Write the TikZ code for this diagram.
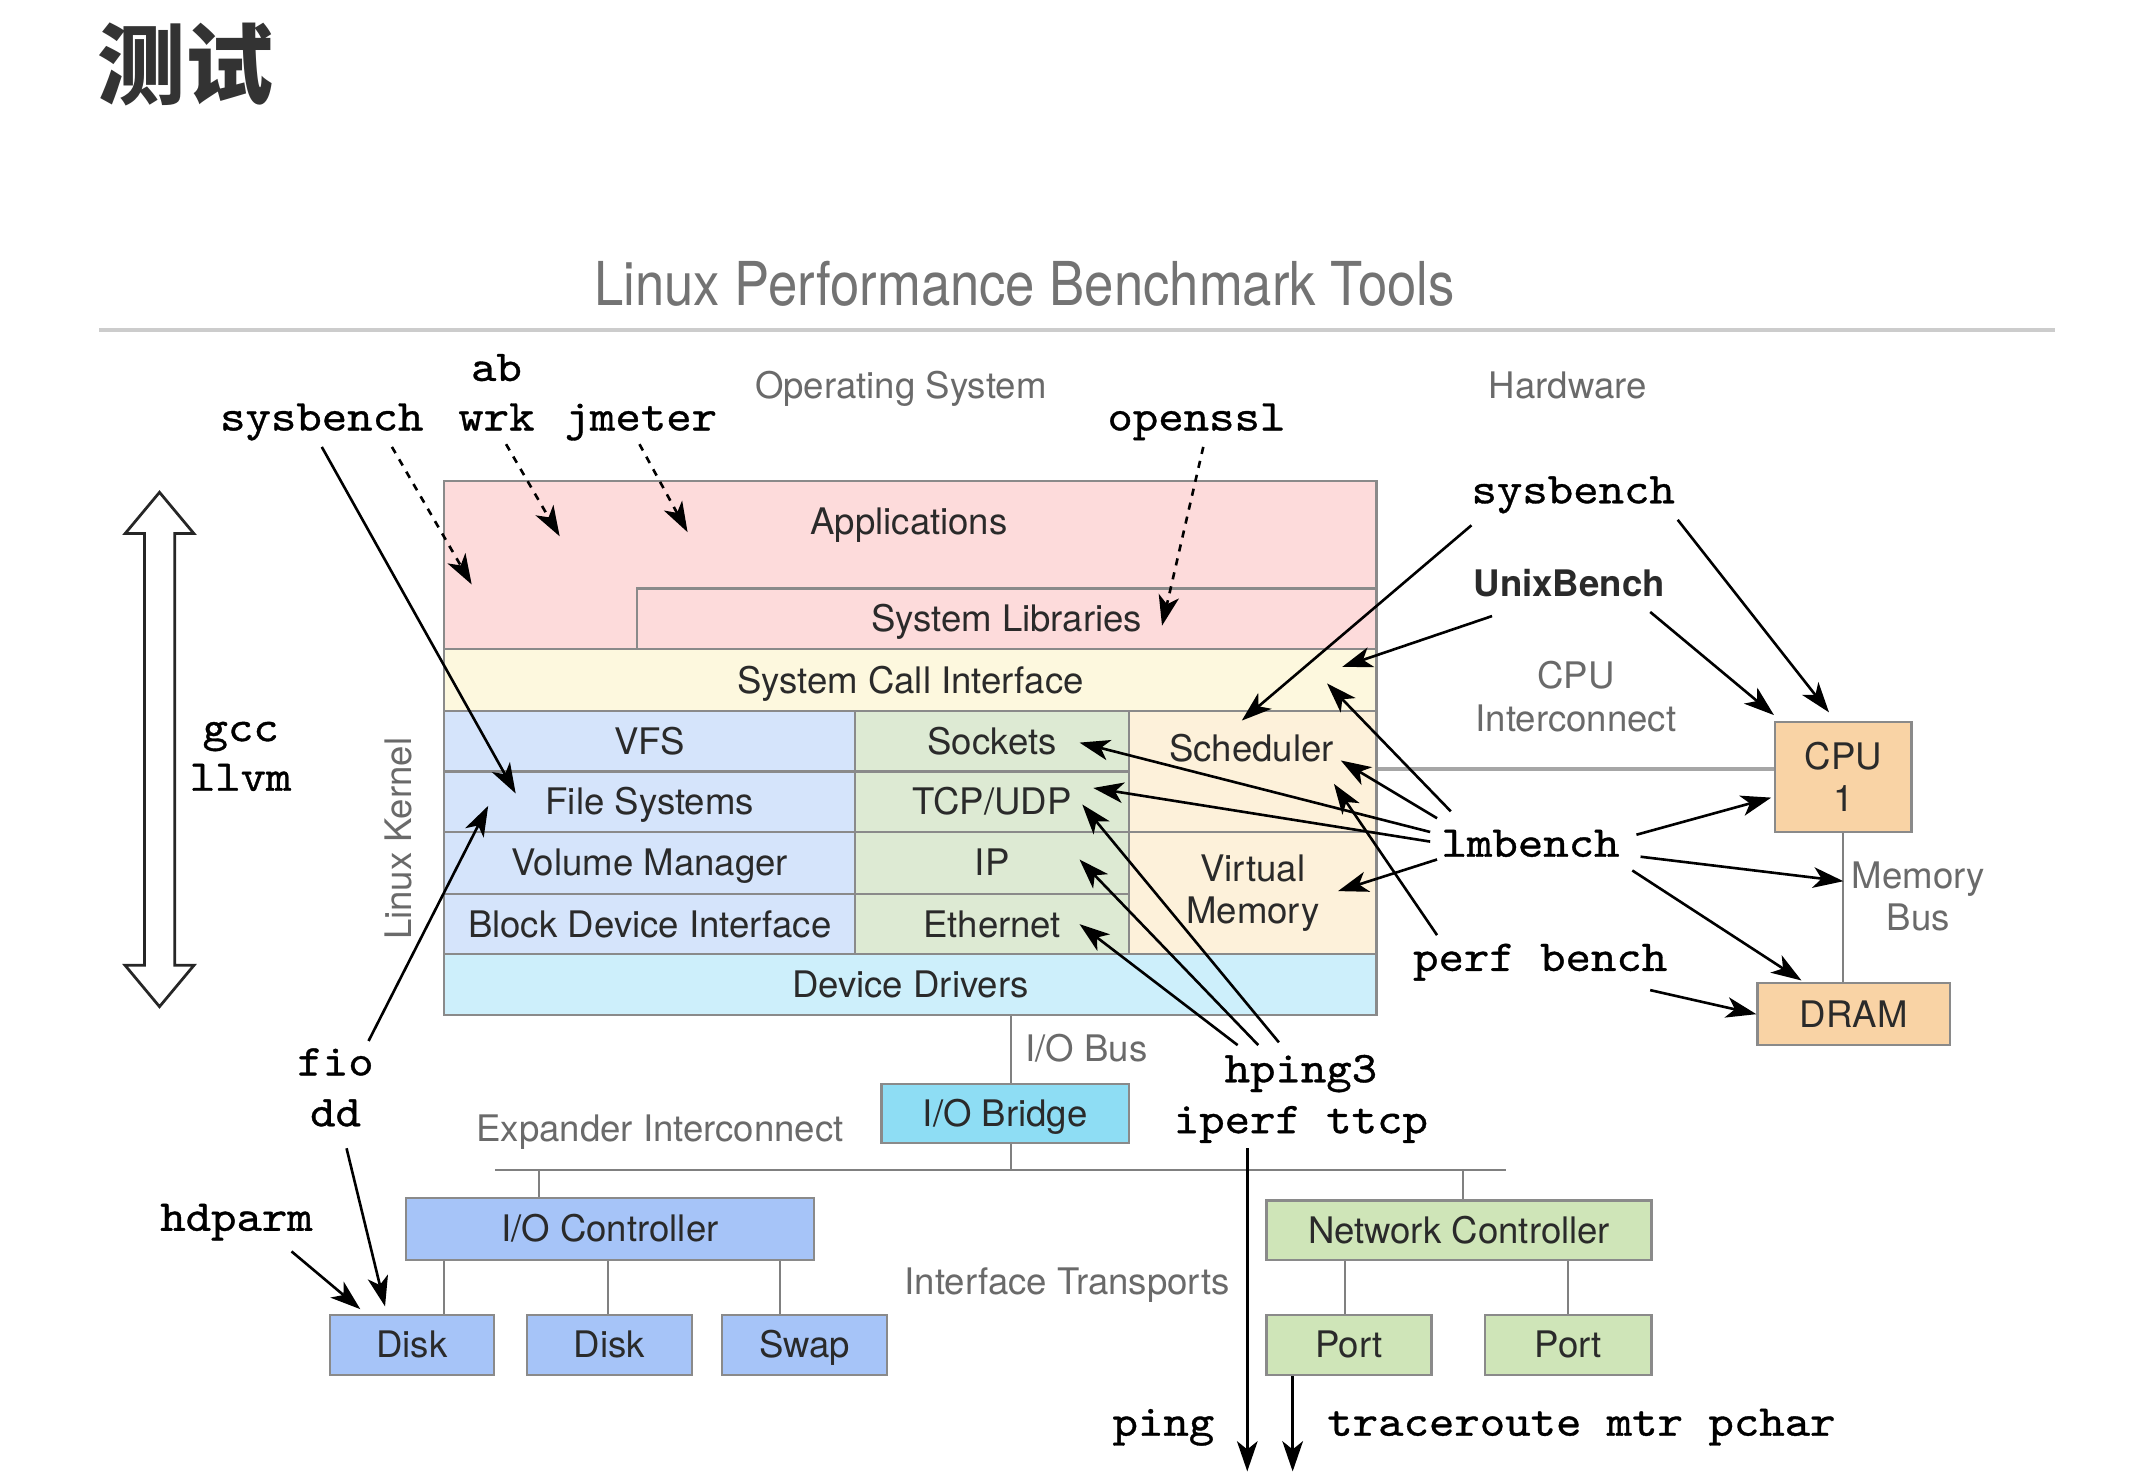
\documentclass[tikz,border=0pt]{standalone}
\usepackage{fontspec}
\setmainfont{TeX Gyre Heros}
\newfontfamily\codefont{lmmono10-regular.otf}[FakeBold=0.8,FakeStretch=1.1]
\newfontfamily\cjkfont{Noto Sans CJK SC}
\newfontfamily\ttlfont{TeX Gyre Heros}[FakeStretch=0.87]
\usetikzlibrary{arrows.meta}
\definecolor{cPink}{HTML}{FDDBDB}
\definecolor{cCream}{HTML}{FDF8DE}
\definecolor{cBlue}{HTML}{D5E4FB}
\definecolor{cGreen}{HTML}{DDEAD3}
\definecolor{cOrangeL}{HTML}{FDF1DA}
\definecolor{cCyanL}{HTML}{CDEFFB}
\definecolor{cCyan}{HTML}{8EDDF4}
\definecolor{cBlueD}{HTML}{A6C4F8}
\definecolor{cGreenD}{HTML}{CFE5B8}
\definecolor{cOrange}{HTML}{F9D3A5}
\definecolor{bordergray}{HTML}{8A8A8A}
\definecolor{linegray}{HTML}{808080}
\definecolor{labelgray}{HTML}{6A6A6A}
\definecolor{textblack}{HTML}{2A2A2A}
\newcommand\sbfont{\fontsize{13.3}{15.5}\selectfont}
\newcommand\cdfont{\codefont\fontsize{16}{18}\selectfont}
\begin{document}
\begin{tikzpicture}[x=0.5pt,y=-0.5pt,
  box/.style={draw=bordergray,line width=0.8pt,inner sep=0pt,font=\sbfont,text=textblack,text height=9.5pt,text depth=0pt},
  wh/.style 2 args={minimum width=#1*0.5pt,minimum height=#2*0.5pt},
  twolines/.style={align=center,text height={},text depth={}},
  txt/.style={font=\sbfont,text=textblack,inner sep=0pt,anchor=base},
  glabel/.style={font=\sbfont,text=labelgray,inner sep=0pt,anchor=base,align=center},
  code/.style={font=\cdfont,text=black,inner sep=0pt,anchor=base},
  arr/.style={-{Stealth[length=11pt,width=7.5pt,inset=3pt]},line width=0.95pt,draw=black},
  dotarr/.style={arr,dash pattern=on 2.6pt off 2.6pt},
  link/.style={draw=linegray,line width=0.7pt}]
\fill[white] (0,0) rectangle (1562,1075);
\useasboundingbox (0,0) rectangle (1562,1075);

% titles
\node[font=\cjkfont\bfseries\fontsize{32}{36}\selectfont,text=black!80,inner sep=0pt] (cn) at (135,47) {测试};
\node[font=\ttlfont\fontsize{22}{24}\selectfont,text=black!55,inner sep=0pt,anchor=base] (title) at (745,222) {Linux Performance Benchmark Tools};
\coordinate (ruleL) at (72,240);
\coordinate (ruleR) at (1494,240);
\draw[draw=black!20,line width=1.3pt] (ruleL) -- (ruleR);

\node[glabel] (os) at (655,290) {Operating System};
\node[glabel] (hw) at (1140,290) {Hardware};

% kernel stack
\node[box,fill=cPink,wh={678}{122}] (apps) at (662,411) {};
\node[txt] (appsT) at (661,389) {Applications};
\node[box,fill=cPink,wh={538}{44}] (syslib) at (732,450) {System Libraries};
\node[box,fill=cCream,wh={678}{45}] (sci) at (662,494.5) {System Call Interface};
\node[box,fill=cBlue,wh={299}{44}] (vfs) at (472.5,539) {VFS};
\node[box,fill=cBlue,wh={299}{44}] (fs) at (472.5,583) {File Systems};
\node[box,fill=cBlue,wh={299}{45}] (vm) at (472.5,627.5) {Volume Manager};
\node[box,fill=cBlue,wh={299}{44}] (bdi) at (472.5,672) {Block Device Interface};
\node[box,fill=cGreen,wh={199}{44}] (sock) at (721.5,539) {Sockets};
\node[box,fill=cGreen,wh={199}{44}] (tcp) at (721.5,583) {TCP/UDP};
\node[box,fill=cGreen,wh={199}{45}] (ip) at (721.5,627.5) {IP};
\node[box,fill=cGreen,wh={199}{44}] (eth) at (721.5,672) {Ethernet};
\node[box,fill=cOrangeL,wh={180}{88}] (sched) at (911,561) {};
\node[txt] (schedT) at (910,554) {Scheduler};
\node[box,fill=cOrangeL,wh={180}{89},twolines] (virt) at (911,649.5) {Virtual\\Memory};
\node[box,fill=cCyanL,wh={678}{44}] (drv) at (662,716) {Device Drivers};

\node[glabel,rotate=90,anchor=center] (lk) at (290,610) {Linux Kernel};

% double arrow
\draw[line width=1pt,draw=black!85,fill=white] (116,358) -- (141,388) -- (127,388) -- (127,702) -- (141,702) -- (116,732) -- (91,702) -- (105,702) -- (105,388) -- (91,388) -- cycle;
\node[code,align=center,anchor=center] (gcc) at (175,550) {gcc\\llvm};

% hardware
\node[box,fill=cOrange,wh={99}{80},twolines] (cpu) at (1340.5,565) {CPU\\1};
\node[box,fill=cOrange,wh={140}{45}] (dram) at (1348,737.5) {DRAM};
\draw[draw=black!35,line width=1.6pt] (cpu.west |- 0,559) -- (sched.east |- 0,559);
\draw[link] (cpu.south) -- (cpu.south |- dram.north);
\node[glabel] (cpuic) at (1146,532) {CPU\\Interconnect};
\node[glabel] (membus) at (1395,677) {Memory\\Bus};

% I/O
\node[box,fill=cCyan,wh={180}{43}] (iob) at (731,809.5) {I/O Bridge};
\draw[link] (iob.north -| 735,0) -- (drv.south -| 735,0);
\coordinate (busL) at (360,851);
\coordinate (busR) at (1095,851);
\draw[link] (busL) -- (busR);
\draw[link] (iob.south -| 735,0) -- (busL -| 735,0);
\node[glabel] (iobus) at (790,772) {I/O Bus};
\node[glabel] (expi) at (480,830) {Expander Interconnect};
\node[glabel] (ift) at (776,941) {Interface Transports};

\node[box,fill=cBlueD,wh={297}{45}] (ioc) at (443.5,893.5) {I/O Controller};
\node[box,fill=cBlueD,wh={119}{44}] (disk1) at (299.5,978) {Disk};
\node[box,fill=cBlueD,wh={120}{44}] (disk2) at (443,978) {Disk};
\node[box,fill=cBlueD,wh={120}{44}] (swap) at (585,978) {Swap};
\node[box,fill=cGreenD,wh={280}{43}] (nc) at (1061,894.5) {Network Controller};
\node[box,fill=cGreenD,wh={120}{44}] (port1) at (981,978) {Port};
\node[box,fill=cGreenD,wh={121}{44}] (port2) at (1140.5,978) {Port};

\draw[link] (ioc.north -| 392,0) -- (busL -| 392,0);
\draw[link] (nc.north -| 1064,0) -- (busL -| 1064,0);
\draw[link] (ioc.south -| 323,0) -- (disk1.north -| 323,0);
\draw[link] (ioc.south -| 442,0) -- (disk2.north -| 442,0);
\draw[link] (ioc.south -| 567,0) -- (swap.north -| 567,0);
\draw[link] (nc.south -| 978,0) -- (port1.north -| 978,0);
\draw[link] (nc.south -| 1140,0) -- (port2.north -| 1140,0);

% tool labels
\node[code] (sysL) at (234,313) {sysbench};
\node[code] (ab) at (361,277) {ab};
\node[code] (wrk) at (361,313) {wrk};
\node[code] (jm) at (466,313) {jmeter};
\node[code] (ossl) at (870,313) {openssl};
\node[code] (fio) at (244,782) {fio};
\node[code] (dd) at (244,819) {dd};
\node[code] (hdp) at (172,895) {hdparm};
\node[code] (sysR) at (1144,366) {sysbench};
\node[txt,font=\sbfont\bfseries] (ub) at (1141,434) {UnixBench};
\node[code] (lmb) at (1113,623) {lmbench};
\node[code] (perf) at (1120,706) {perf bench};
\node[code] (hping) at (946,787) {hping3};
\node[code] (iperf) at (946,824) {iperf ttcp};
\node[code] (ping) at (846,1044) {ping};
\node[code] (trace) at (1150,1044) {traceroute mtr pchar};
\coordinate (pingEnd) at (907,1070);
\coordinate (traceEnd) at (940,1070);

% arrows, left
\draw[arr] ([shift={(0,12)}]sysL.base) -- ([shift={(-97.5,-6)}]fs.center);
\draw[dotarr] ([shift={(51,12)}]sysL.base) -- ([shift={(-319,14)}]apps.center);
\draw[dotarr] ([shift={(7,10)}]wrk.base) -- ([shift={(-255,-21)}]apps.center);
\draw[dotarr] ([shift={(-1,10)}]jm.base) -- ([shift={(-162,-24)}]apps.center);
\draw[dotarr] ([shift={(5,12)}]ossl.base) -- ([shift={(113,5)}]syslib.center);
\draw[arr] ([shift={(24,-25)}]fio.base) -- ([shift={(-117.5,3)}]fs.center);
\draw[arr] ([shift={(8,16)}]dd.base) -- ([shift={(-19.5,-28)}]disk1.center);
\draw[arr] ([shift={(40,15)}]hdp.base) -- ([shift={(-37.5,-26)}]disk1.center);

% arrows, right
\draw[arr] ([shift={(-74,16)}]sysR.base) -- ([shift={(-8,-37)}]sched.center);
\draw[arr] ([shift={(76,12)}]sysR.base) -- ([shift={(-10.5,-47)}]cpu.center);
\draw[arr] ([shift={(-56,14)}]ub.base) -- ([shift={(314,-9.5)}]sci.center);
\draw[arr] ([shift={(59,11)}]ub.base) -- ([shift={(-50.5,-45)}]cpu.center);
\draw[arr] ([shift={(-58,-33)}]lmb.base) -- ([shift={(303,2.5)}]sci.center);
\draw[arr] ([shift={(-68,-28)}]lmb.base) -- ([shift={(64,-8)}]sched.center);
\draw[arr] ([shift={(-73,-18)}]lmb.base) -- ([shift={(63.5,1)}]sock.center);
\draw[arr] ([shift={(-73,-11)}]lmb.base) -- ([shift={(73.5,-10)}]tcp.center);
\draw[arr] ([shift={(-68,2)}]lmb.base) -- ([shift={(62,-1.5)}]virt.center);
\draw[arr] ([shift={(77,-16)}]lmb.base) -- ([shift={(-52.5,15)}]cpu.center);
\draw[arr] ([shift={(80,0)}]lmb.base) -- ([shift={(0,35)}]cpu.south);
\draw[arr] ([shift={(74,10)}]lmb.base) -- ([shift={(-38,-24.5)}]dram.center);
\draw[arr] ([shift={(-75,-26)}]perf.base) -- ([shift={(59,9)}]sched.center);
\draw[arr] ([shift={(80,14)}]perf.base) -- (dram.west);
\draw[arr] ([shift={(-46,-27)}]hping.base) -- ([shift={(63.5,0)}]eth.center);
\draw[arr] ([shift={(-31,-27)}]hping.base) -- ([shift={(63.5,-2.5)}]ip.center);
\draw[arr] ([shift={(-16,-29)}]hping.base) -- ([shift={(65.5,2)}]tcp.center);
\draw[arr] ([shift={(-39,11)}]iperf.base) -- (pingEnd);
\draw[arr] ([shift={(-41,0)}]port1.south) -- (traceEnd);
\end{tikzpicture}
\end{document}
